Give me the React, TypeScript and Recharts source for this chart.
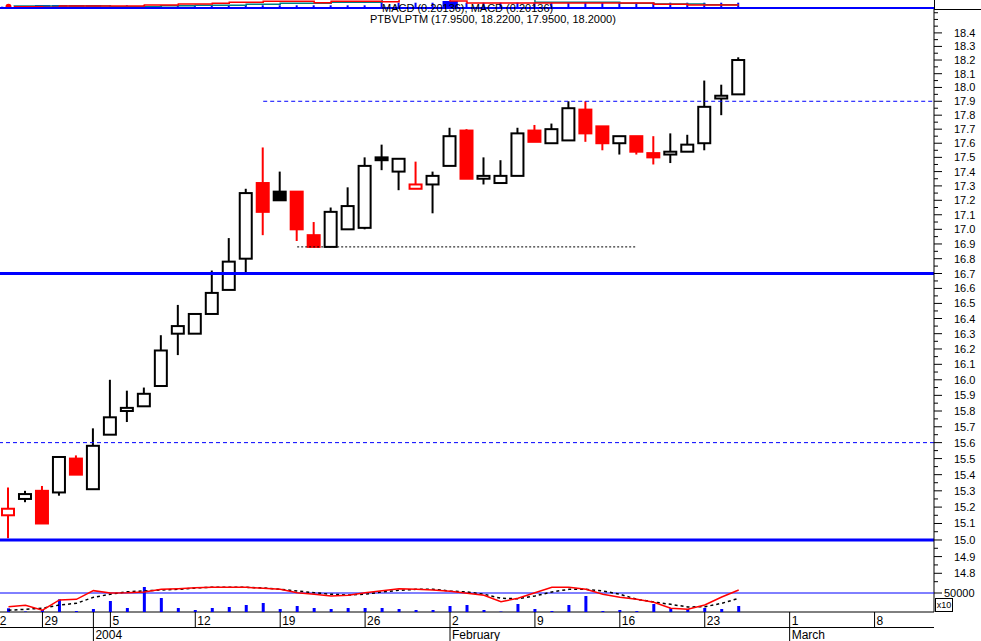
import React from 'react';
import { ComposedChart, Bar, Line, XAxis, YAxis, ReferenceLine } from 'recharts';

// trading days shown on the axis (empty slots after Feb 25)
const dates = [
  'Dec 24', 'Dec 26', 'Dec 29', 'Dec 30', 'Dec 31', 'Jan 2',
  'Jan 5', 'Jan 6', 'Jan 7', 'Jan 8', 'Jan 9',
  'Jan 12', 'Jan 13', 'Jan 14', 'Jan 15', 'Jan 16',
  'Jan 19', 'Jan 20', 'Jan 21', 'Jan 22', 'Jan 23',
  'Jan 26', 'Jan 27', 'Jan 28', 'Jan 29', 'Jan 30',
  'Feb 2', 'Feb 3', 'Feb 4', 'Feb 5', 'Feb 6',
  'Feb 9', 'Feb 10', 'Feb 11', 'Feb 12', 'Feb 13',
  'Feb 16', 'Feb 17', 'Feb 18', 'Feb 19', 'Feb 20',
  'Feb 23', 'Feb 24', 'Feb 25', 'Feb 26', 'Feb 27',
  'Mar 1', 'Mar 2', 'Mar 3', 'Mar 4', 'Mar 5',
  'Mar 8', 'Mar 9', 'Mar 10', 'Mar 11',
];

const open = [15.15, 15.25, 15.30, 15.29, 15.50, 15.31, 15.65, 15.80, 15.83, 15.96, 16.30, 16.30, 16.43, 16.59, 16.80, 17.32, 17.26, 17.26, 16.96, 16.88, 17.00, 17.01, 17.50, 17.40, 17.28, 17.31, 17.44, 17.69, 17.35, 17.32, 17.37, 17.69, 17.60, 17.62, 17.84, 17.72, 17.60, 17.65, 17.53, 17.52, 17.54, 17.60, 17.92, 17.95];
const high = [15.32, 15.30, 15.33, 15.51, 15.52, 15.69, 16.00, 15.93, 15.95, 16.29, 16.49, 16.43, 16.72, 16.94, 17.28, 17.57, 17.40, 17.26, 17.05, 17.15, 17.29, 17.50, 17.59, 17.49, 17.47, 17.40, 17.71, 17.70, 17.50, 17.48, 17.71, 17.73, 17.74, 17.90, 17.90, 17.72, 17.65, 17.65, 17.65, 17.67, 17.66, 18.05, 18.02, 18.22];
const low = [15.01, 15.23, 15.10, 15.27, 15.40, 15.31, 15.65, 15.73, 15.83, 15.96, 16.16, 16.30, 16.43, 16.59, 16.71, 16.96, 17.20, 16.92, 16.88, 16.88, 17.00, 17.00, 17.41, 17.27, 17.28, 17.11, 17.44, 17.35, 17.31, 17.32, 17.37, 17.61, 17.60, 17.62, 17.61, 17.55, 17.52, 17.52, 17.45, 17.46, 17.54, 17.55, 17.80, 17.95];
const close = [15.19, 15.28, 15.10, 15.51, 15.40, 15.58, 15.76, 15.82, 15.91, 16.19, 16.35, 16.43, 16.57, 16.78, 17.25, 17.12, 17.20, 17.00, 16.88, 17.12, 17.16, 17.44, 17.48, 17.49, 17.31, 17.37, 17.65, 17.35, 17.37, 17.37, 17.67, 17.61, 17.70, 17.85, 17.67, 17.60, 17.65, 17.54, 17.50, 17.54, 17.59, 17.86, 17.94, 18.20];
const closeBefore = 15.25;

const volume = [9700, 1300, 5300, 33400, 2600, 7900, 29000, 10500, 65800, 36800, 10500, 5300, 10500, 13200, 18400, 23700, 7900, 15800, 10500, 7900, 10500, 10500, 10500, 7900, 5300, 5300, 15800, 18400, 5300, 1300, 21000, 7900, 2600, 18400, 42100, 2600, 5300, 2600, 21000, 10500, 7900, 10500, 7900, 15800];

const macd = [0.048, 0.061, 0.016, 0.110, 0.116, 0.195, 0.174, 0.176, 0.183, 0.207, 0.213, 0.222, 0.226, 0.226, 0.226, 0.216, 0.207, 0.176, 0.162, 0.146, 0.153, 0.176, 0.195, 0.213, 0.207, 0.201, 0.189, 0.171, 0.153, 0.094, 0.125, 0.176, 0.226, 0.226, 0.207, 0.162, 0.134, 0.116, 0.089, 0.034, 0.025, 0.064, 0.137, 0.201];
const signal = [0.016, 0.025, 0.034, 0.064, 0.079, 0.134, 0.162, 0.185, 0.192, 0.201, 0.207, 0.219, 0.226, 0.226, 0.226, 0.219, 0.207, 0.192, 0.176, 0.162, 0.155, 0.162, 0.183, 0.198, 0.207, 0.207, 0.192, 0.183, 0.162, 0.125, 0.121, 0.146, 0.183, 0.207, 0.207, 0.192, 0.162, 0.116, 0.091, 0.070, 0.046, 0.048, 0.079, 0.125];

// clipped MACD strip at the very top
const stripHist = [2, 2, 4, 4, 4, 4, 3.7, 3.7, 3.7, 3.7, 3.7, 3.7, 3.7, 3.7, 3.7, 3.7, 3.7, 3.7, 3.7, 3.7, 3.7, 3.7, 6.3, 6.3, 6.3, 6.3, 8, 6.3, 6.3, 6.3, 6.3, 6.3, 6.3, 6.3, 6.3, 6.3, 6.3, 6.3, 6.3, 6.3, 6.3, 6.3, 6.3, 6.3];
const stripBlock = [2.3, 2.3, 4, 4, 4, 4, null, null, null, null, null, null, null, null, null, null, null, null, null, null, null, null, null, null, null, null, 8, null, null, null, null, null, null, null, null, null, null, null, null, null, null, null, null, null];
const stripRed = [2.3, 2.3, 1.7, 3, 3, 3, 3, 3, 4, 4, 5, 5, 5.7, 6.7, 6.7, 7.7, 7.7, 7.7, 6.3, 7.7, 7.7, 7.7, 7.3, 10, 10, 10, 8, 6, 6, 6, 6, 6, 6, 6, 6, 6, 6, 6, 4.7, 4.7, 4, 4, 4, 4];
const stripTeal = [3, 3, 3, 3, 3, 3, 2.3, 2.3, 2.3, 3.3, 3.3, 3.7, 3.7, 3.7, 4.7, 4.7, 5.7, 5.7, 5.7, 6.7, 6.7, 6.7, 10, 10, 10, 10, 10, 10, 10, 10, 10, 6.7, 6.7, 6.7, 6.7, 6.7, 5.7, 5.7, 5, 5, 5, 4.3, 4.3, 4.3];

const priceLabels = [14.8, 14.9, 15.0, 15.1, 15.2, 15.3, 15.4, 15.5, 15.6, 15.7, 15.8, 15.9, 16.0, 16.1, 16.2, 16.3, 16.4, 16.5, 16.6, 16.7, 16.8, 16.9, 17.0, 17.1, 17.2, 17.3, 17.4, 17.5, 17.6, 17.7, 17.8, 17.9, 18.0, 18.1, 18.2, 18.3, 18.4];
const priceMinor = [14.75, ...priceLabels.map((v) => Math.round((v + 0.05) * 100) / 100), 18.5, 18.55];

const dayTicks = ['Dec 29', 'Jan 5', 'Jan 12', 'Jan 19', 'Jan 26', 'Feb 2', 'Feb 9', 'Feb 16', 'Feb 23', 'Mar 1', 'Mar 8'];
const dayLabels = ['29', '5', '12', '19', '26', '2', '9', '16', '23', '1', '8'];
const monthTicks = ['Jan 2', 'Feb 2', 'Mar 1'];
const monthLabels = ['2004', 'February', 'March'];
const leadLabel = '22';

const PLOT_W = 934;
const AXIS_W = 47;
const SLOT = PLOT_W / dates.length;
const PRICE_DOMAIN: [number, number] = [14.571, 18.578];
const BLUE = '#0000ff';
const RED = '#ff0000';
const FONT = "Arial, 'Liberation Sans', sans-serif";

const rows = dates.map((date, i) => ({
  date,
  open: open[i] ?? null,
  high: high[i] ?? null,
  low: low[i] ?? null,
  close: close[i] ?? null,
  prev: i === 0 ? closeBefore : close[i - 1] ?? null,
  vol: volume[i] ?? null,
  macd: macd[i] ?? null,
  signal: signal[i] ?? null,
  hist: stripHist[i] ?? null,
  block: stripBlock[i] ?? null,
  red: stripRed[i] ?? null,
  teal: stripTeal[i] ?? null,
}));

const axisTicks = dates.filter((d, i) => i === 0 || dayTicks.includes(d) || monthTicks.includes(d));

function Candle(props: any) {
  const { x, y, width, height, payload } = props;
  if (!payload || payload.open == null) return <g />;
  const { open: o, close: c, high: h, low: l, prev } = payload;
  const top = Math.min(y, y + height);
  const span = Math.abs(height);
  const lh = Math.log(h);
  const lr = lh - Math.log(l);
  const py = (v: number) => (lr === 0 ? top : top + (span * (lh - Math.log(v))) / lr);
  const color = c < prev ? RED : '#000';
  const filled = c < o;
  const cx = x + width / 2;
  const bTop = py(Math.max(o, c));
  const bBot = py(Math.min(o, c));
  return (
    <g>
      <line x1={cx} x2={cx} y1={top} y2={top + span} stroke={color} strokeWidth={2} />
      <rect x={cx - 6} y={bTop} width={12} height={Math.max(bBot - bTop, 1)} fill={filled ? color : '#fff'} stroke={color} strokeWidth={2} />
    </g>
  );
}

function PriceTick(props: any) {
  const { x, y, payload } = props;
  const v = payload.value;
  const labeled = priceLabels.includes(v);
  return (
    <g>
      <line x1={x} x2={x + (labeled ? 8 : 4)} y1={y} y2={y} stroke="#000" />
      {labeled && (
        <text x={x + 20} y={y + 4} fontSize={11} fontFamily={FONT} fill="#000">
          {v.toFixed(1)}
        </text>
      )}
    </g>
  );
}

function DateTick(props: any) {
  const { x, y, payload } = props;
  const d = payload.value;
  if (d === dates[0]) {
    return (
      <text x={x - 2} y={y + 13} textAnchor="end" fontSize={12} fontFamily={FONT} fill="#000">
        {leadLabel}
      </text>
    );
  }
  const di = dayTicks.indexOf(d);
  const mi = monthTicks.indexOf(d);
  return (
    <g>
      <line x1={x} x2={x} y1={y} y2={y + (mi >= 0 ? 29 : 15)} stroke="#000" />
      {di >= 0 && (
        <text x={x + 2} y={y + 13} fontSize={12} fontFamily={FONT} fill="#000">
          {dayLabels[di]}
        </text>
      )}
      {mi >= 0 && (
        <text x={x + 2} y={y + 27} fontSize={12} fontFamily={FONT} fill="#000">
          {monthLabels[mi]}
        </text>
      )}
    </g>
  );
}

function VolTick(props: any) {
  const { x, y, payload } = props;
  return (
    <g>
      <line x1={x} x2={x + 8} y1={y} y2={y} stroke="#000" />
      <text x={x + 10} y={y + 4} fontSize={11} fontFamily={FONT} fill="#000">
        {payload.value}
      </text>
    </g>
  );
}

const ExtendedLine = (p: any) => (
  <line x1={p.x1} y1={p.y1} x2={p.x2 + SLOT / 2} y2={p.y2} stroke={BLUE} strokeDasharray="4 3" />
);

export default function App() {
  return (
    <div style={{ position: 'absolute', left: 0, top: 0, width: 981, height: 641, background: '#fff', overflow: 'hidden', fontFamily: FONT }}>
      {/* price panel */}
      <div style={{ position: 'absolute', left: 0, top: 0 }}>
        <ComposedChart width={PLOT_W + AXIS_W} height={641} data={rows} margin={{ top: 9, right: 0, bottom: 0, left: 0 }}>
          <XAxis dataKey="date" interval={0} ticks={axisTicks} tick={<DateTick />} tickLine={false} tickSize={0} tickMargin={0} height={29} axisLine={{ stroke: '#000' }} />
          <YAxis
            yAxisId="p"
            orientation="right"
            type="number"
            scale="log"
            domain={PRICE_DOMAIN}
            allowDataOverflow
            ticks={priceMinor.concat(priceLabels)}
            interval={0}
            tick={<PriceTick />}
            tickLine={false}
            tickSize={0}
            tickMargin={0}
            width={AXIS_W}
            axisLine={{ stroke: '#000' }}
          />
          <Bar yAxisId="p" dataKey={(d: any) => (d.high != null ? [d.low, d.high] : null)} barSize={14} shape={<Candle />} isAnimationActive={false} />
          <ReferenceLine yAxisId="p" y={16.7} stroke={BLUE} strokeWidth={3} />
          <ReferenceLine yAxisId="p" y={15.0} stroke={BLUE} strokeWidth={3} />
          <ReferenceLine yAxisId="p" y={15.6} stroke={BLUE} strokeDasharray="4 3" />
          <ReferenceLine yAxisId="p" segment={[{ x: 'Jan 16', y: 17.9 }, { x: 'Mar 11', y: 17.9 }]} shape={ExtendedLine} />
          <ReferenceLine yAxisId="p" segment={[{ x: 'Jan 20', y: 16.88 }, { x: 'Feb 17', y: 16.88 }]} stroke="#000" strokeDasharray="2 2" />
        </ComposedChart>
      </div>

      {/* volume + MACD lines */}
      <div style={{ position: 'absolute', left: 0, top: 574 }}>
        <ComposedChart width={PLOT_W + AXIS_W} height={38} data={rows} margin={{ top: 0, right: 0, bottom: 0, left: 0 }}>
          <XAxis dataKey="date" hide />
          <YAxis yAxisId="v" orientation="right" domain={[0, 100000]} ticks={[50000]} tick={<VolTick />} tickLine={false} tickSize={0} tickMargin={0} axisLine={false} width={AXIS_W} />
          <YAxis yAxisId="m" hide domain={[0, 0.347]} allowDataOverflow />
          <ReferenceLine yAxisId="v" y={50000} stroke={BLUE} />
          <Bar yAxisId="v" dataKey="vol" barSize={3} fill={BLUE} isAnimationActive={false} />
          <Line yAxisId="m" dataKey="signal" stroke="#000" strokeWidth={1.5} strokeDasharray="3 3" dot={false} isAnimationActive={false} />
          <Line yAxisId="m" dataKey="macd" stroke={RED} strokeWidth={1.5} dot={false} isAnimationActive={false} />
        </ComposedChart>
      </div>

      {/* top strip */}
      <div style={{ position: 'absolute', left: 0, top: 0 }}>
        <ComposedChart width={PLOT_W} height={9} data={rows} margin={{ top: 0, right: 0, bottom: 0, left: 0 }}>
          <XAxis dataKey="date" hide />
          <XAxis xAxisId="b" dataKey="date" hide />
          <YAxis hide domain={[0, 9]} allowDataOverflow />
          <Bar xAxisId="b" dataKey="block" barSize={17} fill={BLUE} isAnimationActive={false} />
          <Bar dataKey="hist" barSize={2} fill={BLUE} isAnimationActive={false} />
          <Line type="stepAfter" dataKey="teal" stroke="#008080" strokeWidth={1.5} dot={false} isAnimationActive={false} />
          <Line type="stepAfter" dataKey="red" stroke={RED} strokeWidth={1.5} dot={false} isAnimationActive={false} />
        </ComposedChart>
      </div>

      {/* panel rules */}
      <div style={{ position: 'absolute', left: 0, top: 7, width: PLOT_W, height: 2, background: BLUE }} />
      <div style={{ position: 'absolute', left: PLOT_W, top: 9, width: AXIS_W, height: 1, background: '#000' }} />
      <div style={{ position: 'absolute', left: PLOT_W, top: 0, width: 1, height: 10, background: '#000' }} />
      <div style={{ position: 'absolute', left: 0, top: 627, width: PLOT_W, height: 1, background: '#000' }} />
      <div style={{ position: 'absolute', left: 935, top: 598, width: 16, height: 12, border: '1px solid #000', fontSize: 9, lineHeight: '12px', textAlign: 'center' }}>x10</div>

      <div style={{ position: 'absolute', left: 382, top: 2, fontSize: 11, lineHeight: '12px', whiteSpace: 'nowrap' }}>MACD (0.20136), MACD (0.20136)</div>
      <div style={{ position: 'absolute', left: 370, top: 13, fontSize: 11, lineHeight: '12px', whiteSpace: 'nowrap' }}>PTBVLPTM (17.9500, 18.2200, 17.9500, 18.2000)</div>
    </div>
  );
}
